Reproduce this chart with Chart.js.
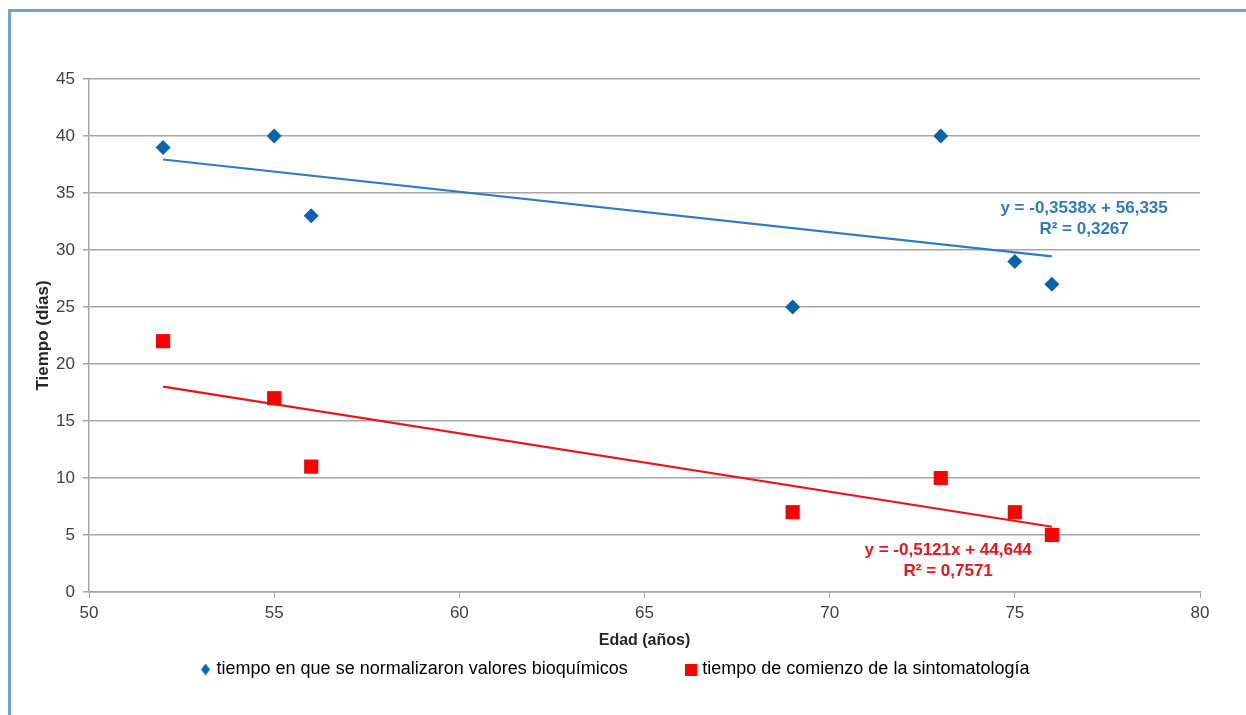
<!DOCTYPE html>
<html>
<head>
<meta charset="utf-8">
<script src="https://cdn.jsdelivr.net/npm/chart.js@4.4.1/dist/chart.umd.min.js"></script>
<style>
  html, body { margin: 0; padding: 0; background: #ffffff; }
  #frame { position: absolute; left: 8px; top: 9px; width: 1260px; height: 720px;
           border-left: 3px solid #6fa1d9; border-top: 3px solid #6fa1d9; }
  #wrap { position: absolute; left: 0; top: 0; width: 1246px; height: 715px; }
</style>
</head>
<body>
<div id="frame"></div>
<div id="wrap"><canvas id="c" width="1246" height="715"></canvas></div>
<script>
// ---- data ----
const edad = [52, 55, 56, 69, 73, 75, 76];
const tiempoBioquimicos = [39, 40, 33, 25, 40, 29, 27];
const tiempoSintomatologia = [22, 17, 11, 7, 10, 7, 5];
const seriesNames = ['tiempo en que se normalizaron valores bioquímicos', 'tiempo de comienzo de la sintomatología'];
const trendBio = { slope: -0.3538, intercept: 56.335, label: ['y = -0,3538x + 56,335', 'R² = 0,3267'] };
const trendSin = { slope: -0.5121, intercept: 44.644, label: ['y = -0,5121x + 44,644', 'R² = 0,7571'] };
const xTicks = [50, 55, 60, 65, 70, 75, 80];
const yTicks = [0, 5, 10, 15, 20, 25, 30, 35, 40, 45];

const BLUE = '#0d62b0', BLUE_LINE = '#2e7bc4', RED = '#ff0000', RED_LINE = '#e8161c';
const FONT = "'Liberation Sans', Arial, sans-serif";

function pts(xs, ys) { return xs.map((x, i) => ({ x: x, y: ys[i] })); }
function trendPts(t) {
  const x0 = Math.min(...edad), x1 = Math.max(...edad);
  return [{ x: x0, y: t.slope * x0 + t.intercept }, { x: x1, y: t.slope * x1 + t.intercept }];
}

// small legend icons
function icon(kind, color) {
  const c = document.createElement('canvas');
  c.width = 12; c.height = 12;
  const g = c.getContext('2d');
  g.fillStyle = color;
  if (kind === 'diamond') {
    g.beginPath(); g.moveTo(6, 0); g.lineTo(10.5, 6); g.lineTo(6, 12); g.lineTo(1.5, 6); g.closePath(); g.fill();
  } else {
    g.fillRect(0, 0, 12, 12);
  }
  return c;
}
const legendIcons = [icon('diamond', BLUE), icon('square', RED)];

const labelPlugin = {
  id: 'trendLabels',
  afterInit(chart) {
    const lg = chart.legend;
    if (lg) {
      const orig = lg.fit;
      lg.fit = function () { orig.call(this); this.height = 61; };
    }
  },
  afterDatasetsDraw(chart) {
    const ctx = chart.ctx, xs = chart.scales.x, ys = chart.scales.y;
    const items = [
      { t: trendBio, x: 76.87, y: 33.68, color: '#2e7bc4' },
      { t: trendSin, x: 73.2, y: 3.68, color: '#e8161c' }
    ];
    ctx.save();
    ctx.font = "bold 17px " + FONT;
    ctx.textAlign = 'center';
    ctx.textBaseline = 'middle';
    items.forEach(it => {
      const px = xs.getPixelForValue(it.x), py = ys.getPixelForValue(it.y);
      ctx.fillStyle = it.color;
      ctx.fillText(it.t.label[0], px, py);
      ctx.fillText(it.t.label[1], px, py + 21);
    });
    ctx.restore();
  }
};

const GAP = '\u00a0'.repeat(11);

new Chart(document.getElementById('c'), {
  type: 'scatter',
  data: {
    datasets: [
      { label: seriesNames[0], data: pts(edad, tiempoBioquimicos), pointStyle: 'rectRot',
        pointRadius: 7.5, pointHoverRadius: 7.5, backgroundColor: BLUE, borderColor: BLUE, borderWidth: 0, order: 1 },
      { label: seriesNames[1], data: pts(edad, tiempoSintomatologia), pointStyle: 'rect',
        pointRadius: 10, pointHoverRadius: 10, backgroundColor: RED, borderColor: RED, borderWidth: 0, order: 1 },
      { label: 'trendBio', type: 'line', data: trendPts(trendBio), showLine: true, pointRadius: 0,
        borderColor: BLUE_LINE, borderWidth: 2.2, fill: false, order: 2 },
      { label: 'trendSin', type: 'line', data: trendPts(trendSin), showLine: true, pointRadius: 0,
        borderColor: RED_LINE, borderWidth: 2.2, fill: false, order: 2 }
    ]
  },
  options: {
    responsive: false,
    animation: false,
    devicePixelRatio: 1,
    layout: { padding: { top: 79, right: 46, left: 33, bottom: 0 } },
    plugins: {
      tooltip: { enabled: false },
      legend: {
        position: 'bottom',
        labels: {
          usePointStyle: true,
          pointStyleWidth: 4,
          boxHeight: 12,
          padding: 6.5,
          color: '#404040',
          font: { family: FONT, size: 18 },
          generateLabels(chart) {
            return chart.data.datasets.slice(0, 2).map((d, i) => ({
              text: i === 0 ? d.label + GAP : d.label,
              fillStyle: d.backgroundColor, strokeStyle: d.backgroundColor,
              lineWidth: 0, pointStyle: legendIcons[i], datasetIndex: i, hidden: false
            }));
          }
        }
      }
    },
    scales: {
      x: {
        type: 'linear', min: 50, max: 80,
        afterBuildTicks(scale) { scale.ticks = xTicks.map(v => ({ value: v })); },
        afterFit(scale) { scale.height = 62; },
        grid: { drawOnChartArea: false, drawTicks: true, tickLength: 6, color: '#a6a6a6' },
        border: { color: '#a6a6a6', width: 1.5 },
        ticks: { color: '#404040', font: { family: FONT, size: 17 }, padding: 5 },
        title: { display: true, text: 'Edad (años)', color: '#262626', font: { family: FONT, size: 16, weight: 'bold' }, padding: { top: 0 } }
      },
      y: {
        type: 'linear', min: 0, max: 45,
        afterBuildTicks(scale) { scale.ticks = yTicks.map(v => ({ value: v })); },
        afterFit(scale) { scale.width = 56; },
        grid: { color: '#a6a6a6', lineWidth: 1.5, tickLength: 6 },
        border: { color: '#a6a6a6', width: 1.5 },
        ticks: { color: '#404040', font: { family: FONT, size: 17 }, padding: 8 },
        title: { display: true, text: 'Tiempo (días)', color: '#262626', font: { family: FONT, size: 17, weight: 'bold' }, padding: 0 }
      }
    }
  },
  plugins: [labelPlugin]
});
</script>
</body>
</html>
